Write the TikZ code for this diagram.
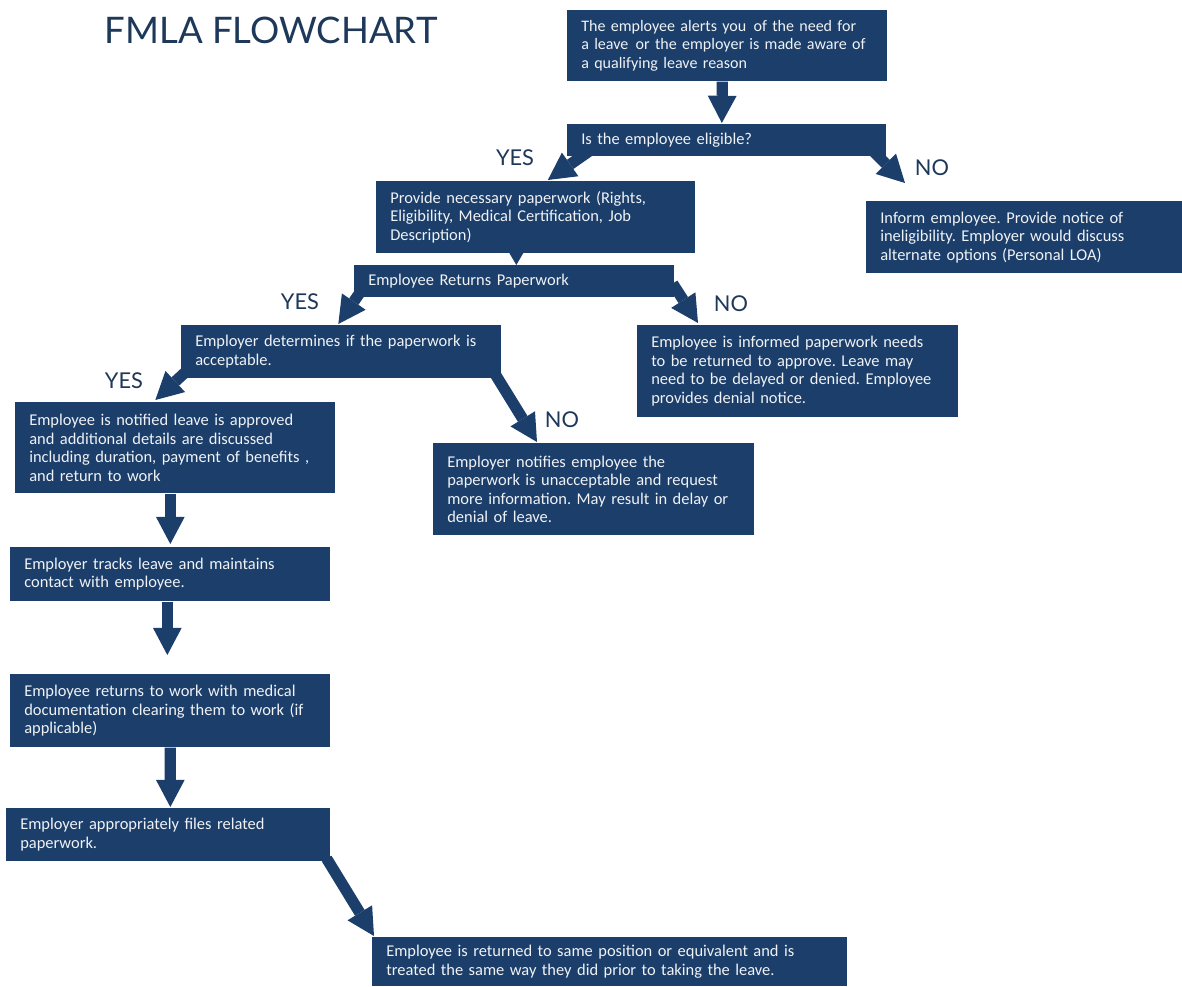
\documentclass[tikz,border=0pt]{standalone}
\usepackage{fontspec}
\usepackage{tikz}
\usetikzlibrary{arrows.meta, positioning, calc}
\usepackage{xcolor}

\newfontfamily\carlito{Carlito}
\newfontfamily\lato{Lato}
\definecolor{boxblue}{RGB}{27,62,106}
\definecolor{titleblue}{RGB}{30,56,90}
\definecolor{boxtext}{RGB}{240,242,245}
\frenchspacing

\begin{document}
\begin{tikzpicture}[
  x=0.025cm, y=-0.025cm,
  flowbox/.style={rectangle, fill=boxblue, text=boxtext, anchor=north west,
    align=left, inner xsep=0.35cm, inner ysep=0pt,
    font=\carlito\fontsize{11.7}{13.2}\selectfont},
  answer/.style={font=\lato\fontsize{15.5}{16}\selectfont, text=titleblue},
  flowarrow/.style={draw=boxblue, line width=0.28cm,
    -{Triangle[width=0.72cm, length=0.68cm, line width=0pt]}}
]
\useasboundingbox (0,0) rectangle (1182,986);

\node[font=\lato\fontsize{26}{27}\selectfont, text=titleblue] (title) at (271,30) {FMLA FLOWCHART};

% boxes
\node[flowbox, font=\carlito\fontsize{11.4}{13.4}\selectfont, text width=7.3cm, minimum height=1.775cm] (alert) at (567,10)
  {The employee alerts you\kern0.12em\ of the need for\\a leave\kern0.12em\ or the employer is made aware of\\a qualifying leave reason};
\node[flowbox, text width=7.275cm, minimum height=0.8cm] (eligible) at (567,124)
  {Is the employee eligible?};
\node[flowbox, text width=7.275cm, minimum height=1.8cm] (paperwork) at (376,181)
  {Provide necessary paperwork (Rights,\\Eligibility, Medical Certification, Job\\Description)};
\node[flowbox, text width=7.3cm, minimum height=0.8cm] (returns) at (354,265)
  {Employee Returns Paperwork};
\node[flowbox, text width=7.3cm, minimum height=1.325cm] (determine) at (181,325)
  {Employer determines if the paperwork is\\acceptable.};
\node[flowbox, text width=7.3cm, minimum height=2.275cm] (approved) at (15,402)
  {Employee is notified leave is approved\\and additional details are discussed\\including duration, payment of benefits ,\\and return to work};
\node[flowbox, text width=7.325cm, minimum height=2.3cm] (unaccept) at (433,443)
  {Employer notifies employee the\\paperwork is unacceptable and request\\more information. May result in delay or\\denial of leave.};
\node[flowbox, text width=7.3cm, minimum height=1.35cm] (tracks) at (10,547)
  {Employer tracks leave and maintains\\contact with employee.};
\node[flowbox, text width=7.3cm, minimum height=1.825cm] (backwork) at (10,674)
  {Employee returns to work with medical\\documentation clearing them to work (if\\applicable)};
\node[flowbox, text width=7.4cm, minimum height=1.325cm] (files) at (6,808)
  {Employer appropriately files related\\paperwork.};
\node[flowbox, text width=11.175cm, minimum height=1.225cm] (restored) at (372,937)
  {Employee is returned to same position or equivalent and is\\treated the same way they did prior to taking the leave.};
\node[flowbox, text width=7.2cm, minimum height=1.8cm] (inelig) at (866,201)
  {Inform employee. Provide notice of\\ineligibility. Employer would discuss\\alternate options (Personal LOA)};
\node[flowbox, text width=7.325cm, minimum height=2.3cm] (missing) at (637,325)
  {Employee is informed paperwork needs\\to be returned to approve. Leave may\\need to be delayed or denied. Employee\\provides denial notice.};

% answers
\node[answer] (yes1) at (515,158) {YES};
\node[answer] (no1) at (932,168) {NO};
\node[answer] (yes2) at (300,302) {YES};
\node[answer] (no2) at (731,304) {NO};
\node[answer] (yes3) at (124,381) {YES};
\node[answer] (no3) at (562,420) {NO};

% arrows
\draw[flowarrow] ($(alert.south)+(-5,0)$) -- ($(eligible.north)+(-5,-1)$);
\draw[flowarrow] ($(eligible.south west)+(23,-6)$) -- ($(paperwork.north)+(12,-1)$);
\draw[flowarrow] ($(eligible.south east)+(-14,-6)$) -- ($(inelig.north west)+(39,-18)$);
\draw[flowarrow, -{Triangle[width=0.35cm, length=0.3cm, line width=0pt]}]
  ($(returns.north)+(2,-12)$) -- ($(returns.north)+(2,0)$);
\draw[flowarrow] ($(returns.south west)+(6,-5)$) -- ($(determine.north)+(-3,-1)$);
\draw[flowarrow] ($(returns.south east)+(-2,-14)$) -- ($(missing.north west)+(61,-2)$);
\draw[flowarrow] ($(determine.south west)+(5,-7)$) -- ($(approved.north)+(-20,-2)$);
\draw[flowarrow] ($(determine.south east)+(-13,-15)$) -- ($(unaccept.north west)+(104,-1)$);
\draw[flowarrow] ($(approved.south)+(-5,0)$) -- ($(tracks.north)+(0,-3)$);
\draw[flowarrow] ($(tracks.south)+(-3,0)$) -- ($(backwork.north)+(-3,-19)$);
\draw[flowarrow] (backwork.south) -- ($(files.north)+(2,-1)$);
\draw[flowarrow] ($(files.south east)+(-4,-3)$) -- ($(restored.north west)+(2,-1)$);

\end{tikzpicture}
\end{document}
